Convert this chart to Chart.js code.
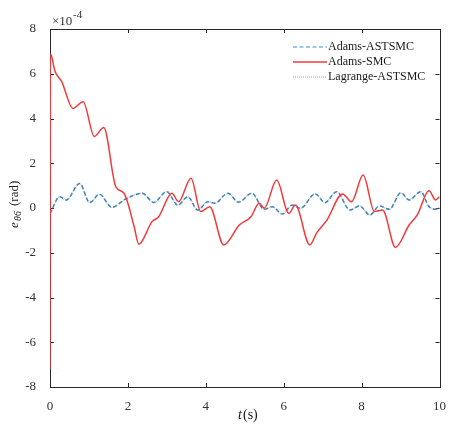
<!DOCTYPE html>
<html>
<head>
<meta charset="utf-8">
<script src="https://cdn.jsdelivr.net/npm/chart.js@4/dist/chart.umd.min.js"></script>
<style>
  body { margin: 0; background: #fff; }
  #wrap { width: 450px; height: 430px; }
</style>
</head>
<body>
<div id="wrap"><canvas id="grafico"></canvas></div>
<script>
// valores en unidades de 1e-4 rad
const tSmc = [0, 0.01, 0.13, 0.30, 0.59, 0.85, 1.14, 1.38, 1.69, 1.90, 2.16, 2.28, 2.62, 2.79, 3.13, 3.30, 3.62, 3.87, 4.10, 4.46, 4.86, 5.16, 5.37, 5.50, 5.82, 6.13, 6.30, 6.67, 6.85, 7.11, 7.51, 7.74, 8.04, 8.33, 8.54, 8.87, 9.22, 9.43, 9.73, 9.90, 10];
const adamsSmc = [-7.2, 6.9, 6.1, 5.65, 4.45, 4.75, 3.2, 3.6, 0.95, 0.66, -0.83, -1.62, -0.61, -0.39, 0.66, 0.28, 1.33, -0.16, 0.06, -1.65, -0.76, -0.39, 0.21, -0.01, 1.25, -0.24, 0.13, -1.65, -1.1, -0.54, 0.63, 0.28, 1.47, -0.16, -0.09, -1.76, -0.76, -0.31, 0.77, 0.36, 0.5];

const tAst = [0, 0.25, 0.42, 0.76, 1.02, 1.27, 1.59, 1.93, 2.37, 2.66, 3.0, 3.28, 3.54, 3.79, 4.06, 4.23, 4.57, 4.84, 5.18, 5.50, 5.71, 5.96, 6.22, 6.43, 6.81, 7.06, 7.36, 7.70, 7.95, 8.21, 8.46, 8.71, 9.01, 9.22, 9.52, 9.73, 9.94, 10];
const adamsAstsmc = [-0.25, 0.5, 0.36, 1.1, 0.24, 0.61, 0.03, 0.39, 0.66, 0.25, 0.73, 0.13, 0.5, -0.09, 0.28, 0.21, 0.66, 0.26, 0.66, -0.06, 0.06, -0.27, 0.13, -0.01, 0.63, 0.24, 0.73, -0.09, 0.09, -0.31, 0.09, -0.06, 0.68, 0.36, 0.73, 0.06, -0.06, 0.0];
// Lagrange practicamente coincide con Adams-ASTSMC
const lagrangeAstsmc = [-0.25, 0.5, 0.36, 1.1, 0.24, 0.61, 0.03, 0.39, 0.66, 0.25, 0.73, 0.13, 0.5, -0.09, 0.28, 0.21, 0.66, 0.26, 0.66, -0.06, 0.06, -0.27, 0.13, -0.01, 0.63, 0.24, 0.73, -0.09, 0.09, -0.31, 0.09, -0.06, 0.68, 0.36, 0.73, 0.06, -0.06, 0.0];

const xTicks = [0, 2, 4, 6, 8, 10];
const yTicks = [-8, -6, -4, -2, 0, 2, 4, 6, 8];

const FUENTE = '"Liberation Serif", "Times New Roman", serif';

function puntos(xs, ys) {
    return xs.map((x, i) => ({ x: x, y: ys[i] }));
}

// Ejes tipo MATLAB: caja completa con marcas hacia dentro, leyenda y titulos
const ejesMatlab = {
    id: 'ejesMatlab',
    beforeDatasetsDraw(chart) {
        const ctx = chart.ctx;
        const a = chart.chartArea;
        const sx = chart.scales.x, sy = chart.scales.y;
        ctx.save();
        ctx.strokeStyle = '#262626';
        ctx.lineWidth = 1;
        ctx.beginPath();
        xTicks.forEach(v => {
            const px = Math.round(sx.getPixelForValue(v)) + 0.5;
            ctx.moveTo(px, a.bottom); ctx.lineTo(px, a.bottom - 4);
            ctx.moveTo(px, a.top); ctx.lineTo(px, a.top + 4);
        });
        yTicks.forEach(v => {
            const py = Math.round(sy.getPixelForValue(v)) + 0.5;
            ctx.moveTo(a.left, py); ctx.lineTo(a.left + 4, py);
            ctx.moveTo(a.right, py); ctx.lineTo(a.right - 4, py);
        });
        ctx.stroke();
        ctx.strokeRect(Math.round(a.left) + 0.5, Math.round(a.top) + 0.5, Math.round(a.right - a.left), Math.round(a.bottom - a.top));
        ctx.restore();
    },
    afterDatasetsDraw(chart) {
        const ctx = chart.ctx;
        ctx.save();
        // leyenda
        ctx.font = '12px ' + FUENTE;
        ctx.fillStyle = '#1a1a1a';
        ctx.textBaseline = 'middle';
        chart.data.datasets.forEach((ds, i) => {
            const y = 47 + i * 15;
            ctx.save();
            ctx.strokeStyle = ds.legendColor || ds.borderColor;
            ctx.lineWidth = ds.borderWidth;
            ctx.setLineDash(ds.borderDash || []);
            ctx.beginPath();
            ctx.moveTo(293, y); ctx.lineTo(327, y);
            ctx.stroke();
            ctx.restore();
            ctx.fillText(ds.label, 328, y);
        });

        // multiplicador
        ctx.font = '13px ' + FUENTE;
        ctx.fillStyle = '#333';
        ctx.textBaseline = 'alphabetic';
        ctx.fillText('\u00d710', 52, 25);
        ctx.font = '11px ' + FUENTE;
        ctx.fillText('-4', 73, 18);

        // titulo eje x
        ctx.font = 'italic 14px ' + FUENTE;
        ctx.fillStyle = '#1a1a1a';
        ctx.fillText('t', 238, 419);
        ctx.font = '14px ' + FUENTE;
        ctx.fillText('(s)', 243, 419);

        // titulo eje y
        ctx.translate(18, 228);
        ctx.rotate(-Math.PI / 2);
        ctx.font = 'italic 13px ' + FUENTE;
        ctx.fillText('e', 0, 0);
        ctx.font = 'italic 10px ' + FUENTE;
        ctx.fillText('\u03b86', 7, 3);
        ctx.font = '13px ' + FUENTE;
        ctx.fillText('(rad)', 22, 0);
        ctx.restore();
    }
};

new Chart(document.getElementById('grafico').getContext('2d'), {
    type: 'line',
    data: {
        datasets: [{
            label: 'Adams-ASTSMC',
            data: puntos(tAst, adamsAstsmc),
            borderColor: '#3f86bd',
            legendColor: '#7ab6e6',
            borderWidth: 1.5,
            borderDash: [4, 2.5],
            cubicInterpolationMode: 'monotone',
            order: 1
        }, {
            label: 'Adams-SMC',
            data: puntos(tSmc, adamsSmc),
            borderColor: '#f23a3a',
            borderWidth: 1.5,
            cubicInterpolationMode: 'monotone',
            order: 0
        }, {
            label: 'Lagrange-ASTSMC',
            data: puntos(tAst, lagrangeAstsmc),
            borderColor: '#b9c3cc',
            borderWidth: 1.5,
            borderDash: [1, 1],
            cubicInterpolationMode: 'monotone',
            order: 2
        }]
    },
    options: {
        responsive: true,
        maintainAspectRatio: false,
        animation: false,
        events: [],
        layout: { padding: { left: 0, right: 6, top: 29, bottom: 0 } },
        elements: { point: { radius: 0 } },
        plugins: { legend: { display: false }, tooltip: { enabled: false } },
        scales: {
            x: {
                type: 'linear',
                min: 0, max: 10,
                afterBuildTicks: s => { s.ticks = xTicks.map(v => ({ value: v })); },
                afterFit: s => { s.height = 43; },
                grid: { display: false },
                border: { display: false },
                ticks: { color: '#333', padding: 4, font: { family: FUENTE, size: 13 } }
            },
            y: {
                min: -8, max: 8,
                afterBuildTicks: s => { s.ticks = yTicks.map(v => ({ value: v })); },
                afterFit: s => { s.width = 50; },
                grid: { display: false },
                border: { display: false },
                ticks: { color: '#333', padding: 6, font: { family: FUENTE, size: 13 } }
            }
        }
    },
    plugins: [ejesMatlab]
});
</script>
</body>
</html>
